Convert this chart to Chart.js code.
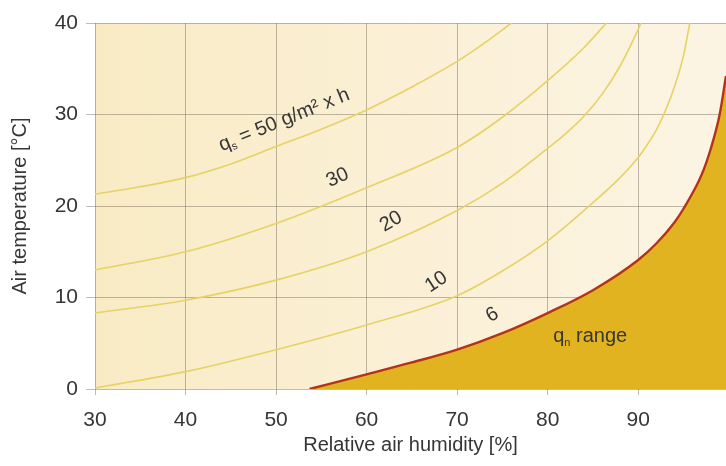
<!DOCTYPE html>
<html>
<head>
<meta charset="utf-8">
<script src="https://cdn.jsdelivr.net/npm/chart.js@4.4.1/dist/chart.umd.min.js"></script>
<style>
    html, body { margin: 0; padding: 0; background: #fff; overflow: hidden; }
</style>
</head>
<body>
<canvas id="myChart" width="726" height="466"></canvas>
<script>
// humidity [%] / temperature [°C], one pair of arrays per curve
const rh50 = [30, 35, 40, 45, 50, 55, 60, 65, 70, 73, 76];
const t50 = [21.3, 22.1, 23.1, 24.6, 26.5, 28.4, 30.5, 33.0, 35.8, 37.8, 40];

const rh30 = [30, 40, 50, 60, 70, 75, 80, 84, 86.5];
const t30 = [13.0, 15.0, 18.1, 22.0, 26.4, 29.7, 33.7, 37.3, 40];

const rh20 = [30, 40, 50, 60, 70, 75, 80, 82, 84, 86, 88, 90, 90.3];
const t20 = [8.3, 9.7, 11.9, 15.0, 19.5, 22.5, 26.3, 27.9, 29.8, 32.2, 35.3, 39.3, 40];

const rh10 = [30, 40, 50, 60, 70, 75, 80, 84, 88, 90, 91, 92, 93, 94, 95, 95.7];
const t10 = [0.1, 1.9, 4.3, 7.0, 10.2, 12.9, 16.2, 19.5, 23.1, 25.3, 26.7, 28.3, 30.4, 33.0, 36.4, 40];

// q = 6 limit, below it is the qn range
const rh6 = [53.7, 60, 65, 70, 75, 80, 85, 90, 92, 94, 95, 97, 98, 99, 99.7];
const t6 = [0, 1.6, 2.9, 4.3, 6.1, 8.3, 10.8, 14.1, 15.9, 18.2, 19.7, 23.4, 26.2, 30.0, 34.2];

const xTicks = [30, 40, 50, 60, 70, 80, 90];
const yTicks = [0, 10, 20, 30, 40];

const toPoints = (xs, ys) => xs.map((x, i) => ({x: x, y: ys[i]}));

// labels on the curves (placed in data units)
const curveLabels = [
    {main: 'q', sub: 's', rest: ' = 50 g/m\u00b2 x h', h: 50.9, t: 29.4, angle: -22},
    {main: '30', sub: '', rest: '', h: 56.8, t: 23.1, angle: -25},
    {main: '20', sub: '', rest: '', h: 62.7, t: 18.3, angle: -30},
    {main: '10', sub: '', rest: '', h: 67.7, t: 11.7, angle: -33},
    {main: '6', sub: '', rest: '', h: 73.9, t: 8.1, angle: -30},
    {main: 'q', sub: 'n', rest: ' range', h: 84.7, t: 5.7, angle: 0}
];

const textColor = '#363636';
const fontFam = '"Liberation Sans", Arial, sans-serif';

const plotBackground = {
    id: 'plotBackground',
    beforeDraw(chart) {
        const {ctx, chartArea: a} = chart;
        let g = ctx.createLinearGradient(a.left, 0, a.right, 0);
        g.addColorStop(0, '#f8ebc4');
        g.addColorStop(0.5, '#fbf0d6');
        g.addColorStop(1, '#fcf4e3');
        ctx.save();
        ctx.fillStyle = g;
        ctx.fillRect(a.left, a.top, a.right - a.left, a.bottom - a.top);
        ctx.restore();
    }
};

const curveText = {
    id: 'curveText',
    afterDraw(chart) {
        const ctx = chart.ctx;
        const xs = chart.scales.x, ys = chart.scales.y;
        ctx.save();
        ctx.fillStyle = textColor;
        ctx.textBaseline = 'middle';
        ctx.textAlign = 'left';
        for (const lb of curveLabels) {
            const px = xs.getPixelForValue(lb.h);
            const py = ys.getPixelForValue(lb.t);
            ctx.save();
            ctx.translate(px, py);
            ctx.rotate(lb.angle * Math.PI / 180);
            ctx.font = '20px ' + fontFam;
            let w1 = ctx.measureText(lb.main).width;
            let w3 = ctx.measureText(lb.rest).width;
            ctx.font = '11px ' + fontFam;
            let w2 = lb.sub ? ctx.measureText(lb.sub).width : 0;
            let x0 = -(w1 + w2 + w3) / 2;
            ctx.font = '20px ' + fontFam;
            ctx.fillText(lb.main, x0, 0);
            if (lb.sub) {
                ctx.font = '11px ' + fontFam;
                ctx.fillText(lb.sub, x0 + w1, 6);
            }
            ctx.font = '20px ' + fontFam;
            ctx.fillText(lb.rest, x0 + w1 + w2, 0);
            ctx.restore();
        }
        ctx.restore();
    }
};

const yellowLine = (pts) => ({
    data: pts,
    borderColor: '#e6d266',
    borderWidth: 1.6,
    pointRadius: 0,
    fill: false,
    cubicInterpolationMode: 'monotone'
});

const gridColor = 'rgba(105, 96, 78, 0.42)';

new Chart(document.getElementById('myChart'), {
    type: 'line',
    data: {
        datasets: [
            yellowLine(toPoints(rh50, t50)),
            yellowLine(toPoints(rh30, t30)),
            yellowLine(toPoints(rh20, t20)),
            yellowLine(toPoints(rh10, t10)),
            {
                data: toPoints(rh6, t6),
                borderColor: '#b3321c',
                borderWidth: 2.4,
                backgroundColor: '#e2b321',
                pointRadius: 0,
                fill: 'origin',
                cubicInterpolationMode: 'monotone'
            }
        ]
    },
    options: {
        responsive: false,
        animation: false,
        devicePixelRatio: 1,
        layout: {padding: {top: 23, right: 0, left: 0, bottom: 0}},
        plugins: {legend: {display: false}, tooltip: {enabled: false}},
        scales: {
            x: {
                type: 'linear',
                min: 30,
                max: 99.7,
                z: 1,
                afterBuildTicks: (scale) => {
                    scale.ticks = xTicks.map(v => ({value: v}));
                },
                afterFit: (scale) => { scale.height = 77; },
                border: {display: false},
                grid: {color: gridColor, lineWidth: 1, tickLength: 6, tickColor: gridColor},
                ticks: {color: textColor, font: {family: fontFam, size: 21}, padding: 13, maxRotation: 0},
                title: {
                    display: true,
                    text: 'Relative air humidity [%]',
                    color: textColor,
                    font: {family: fontFam, size: 20},
                    padding: {top: 0, bottom: 9}
                }
            },
            y: {
                min: 0,
                max: 40,
                z: 1,
                afterBuildTicks: (scale) => {
                    scale.ticks = yTicks.map(v => ({value: v}));
                },
                afterFit: (scale) => { scale.width = 95; },
                border: {display: false},
                grid: {color: gridColor, lineWidth: 1, tickLength: 9, tickColor: gridColor},
                ticks: {color: textColor, font: {family: fontFam, size: 21}, padding: 8},
                title: {
                    display: true,
                    text: 'Air temperature [\u00b0C]',
                    color: textColor,
                    font: {family: fontFam, size: 20},
                    padding: {top: 8, bottom: 0}
                }
            }
        }
    },
    plugins: [plotBackground, curveText]
});
</script>
</body>
</html>
